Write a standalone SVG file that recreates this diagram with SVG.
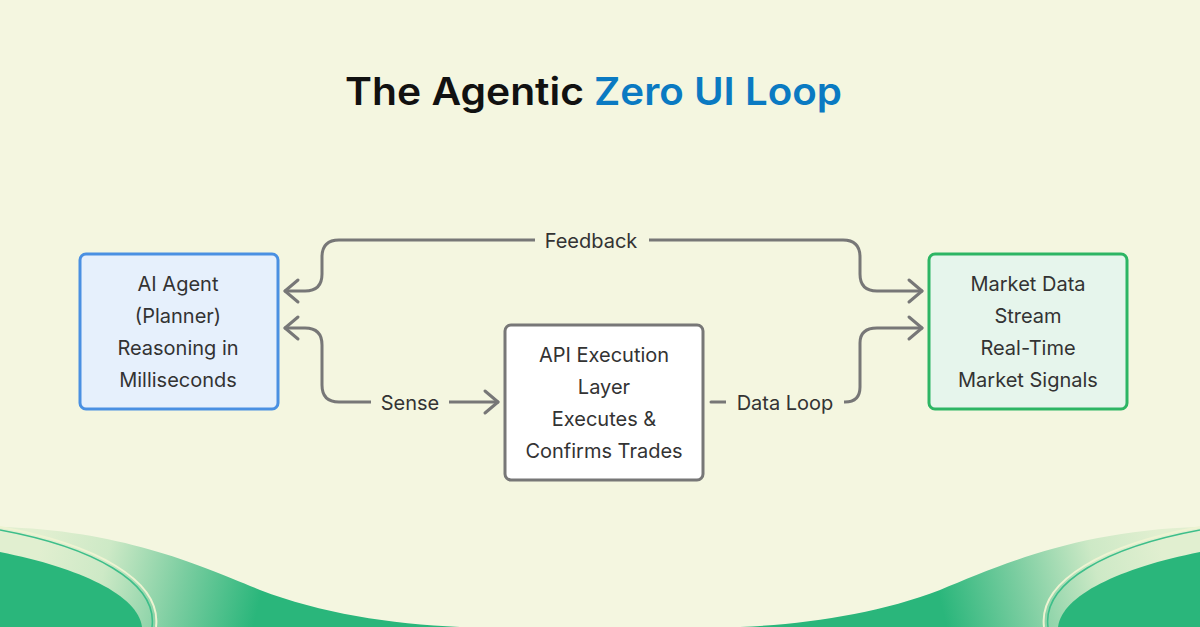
<svg xmlns="http://www.w3.org/2000/svg" width="1200" height="627" viewBox="0 0 1200 627">
  <style>
    .title { font-family: Inter, "Liberation Sans", sans-serif; font-size: 38px; font-weight: 600; }
    .ntext { font-family: Inter, "Liberation Sans", sans-serif; font-size: 20px; fill: #333333; text-anchor: middle; }
    .conn { fill: none; stroke: #777777; stroke-width: 3; stroke-linecap: round; stroke-linejoin: round; }
    .lbl { font-family: Inter, "Liberation Sans", sans-serif; font-size: 20px; fill: #333333; text-anchor: middle; }
  </style>
  <defs>
    <marker id="arr" viewBox="-16 -14 19 28" refX="0" refY="0" markerWidth="19" markerHeight="28" markerUnits="userSpaceOnUse" orient="auto-start-reverse">
      <path d="M-13,-11 L0,0 L-13,11" fill="none" stroke="#777777" stroke-width="3" stroke-linecap="round" stroke-linejoin="round"/>
    </marker>
    <linearGradient id="waveGrad" gradientUnits="userSpaceOnUse" x1="40" y1="545" x2="260" y2="600">
      <stop offset="0" stop-color="#E1EFD0"/>
      <stop offset="0.3" stop-color="#CDE9C6"/>
      <stop offset="0.65" stop-color="#7ACDA0"/>
      <stop offset="1" stop-color="#2AB67B"/>
    </linearGradient>
    <g id="waveCorner">
      <path d="M0,527 C120,530 200,565 260,590 C320,613 390,624 460,627 L0,627 Z" fill="url(#waveGrad)"/>
      <path d="M0,552 C80,568 138,595 142,627 L0,627 Z" fill="#2AB67B"/>
      <path d="M0,530 C92,547 158,582 152,627" fill="none" stroke="#3DBE8A" stroke-width="1.5"/>
      <path d="M0,527 C94,544 162,580 156,627" fill="none" stroke="#EEF3D2" stroke-width="2"/>
    </g>
  </defs>
  <rect x="0" y="0" width="1200" height="627" fill="#F4F6E0"/>

  <g id="background-waves">
    <use href="#waveCorner"/>
    <use href="#waveCorner" transform="translate(1200,0) scale(-1,1)"/>
  </g>

  <g id="title">
    <text class="title" x="345" y="105" fill="#111111" textLength="239" lengthAdjust="spacingAndGlyphs">The Agentic</text>
    <text class="title" x="594" y="105" fill="#0A7AC2" textLength="248" lengthAdjust="spacingAndGlyphs">Zero UI Loop</text>
  </g>

  <g id="connectors">
    <path class="conn" d="M285,291 L305,291 Q322,291 322,274 L322,257 Q322,240 339,240 L843,240 Q860,240 860,257 L860,274 Q860,291 877,291 L922,291" marker-start="url(#arr)" marker-end="url(#arr)"/>
    <path class="conn" d="M285,328 L305,328 Q322,328 322,345 L322,385 Q322,402 339,402 L498,402" marker-start="url(#arr)" marker-end="url(#arr)"/>
    <path class="conn" d="M711,402 L845,402 Q860,402 860,387 L860,343 Q860,328 877,328 L922,328" marker-end="url(#arr)"/>
    <rect x="535" y="228" width="114" height="26" fill="#F4F6E0"/>
    <text class="lbl" x="591" y="248">Feedback</text>
    <rect x="371" y="390" width="78" height="26" fill="#F4F6E0"/>
    <text class="lbl" x="410" y="410">Sense</text>
    <rect x="726" y="390" width="118" height="26" fill="#F4F6E0"/>
    <text class="lbl" x="785" y="410">Data Loop</text>
  </g>

  <g id="node-ai-agent">
    <rect x="80" y="254" width="198" height="155" rx="6" fill="#E6F0FC" stroke="#4A90E2" stroke-width="3"/>
    <text class="ntext" x="178" y="291">AI Agent</text>
    <text class="ntext" x="178" y="323">(Planner)</text>
    <text class="ntext" x="178" y="355">Reasoning in</text>
    <text class="ntext" x="178" y="387">Milliseconds</text>
  </g>

  <g id="node-api">
    <rect x="505" y="325" width="198" height="155" rx="6" fill="#FFFFFF" stroke="#777777" stroke-width="3"/>
    <text class="ntext" x="604" y="362">API Execution</text>
    <text class="ntext" x="604" y="394">Layer</text>
    <text class="ntext" x="604" y="426">Executes &amp;</text>
    <text class="ntext" x="604" y="458">Confirms Trades</text>
  </g>

  <g id="node-market">
    <rect x="929" y="254" width="198" height="155" rx="6" fill="#E6F5EC" stroke="#2DB564" stroke-width="3"/>
    <text class="ntext" x="1028" y="291">Market Data</text>
    <text class="ntext" x="1028" y="323">Stream</text>
    <text class="ntext" x="1028" y="355">Real-Time</text>
    <text class="ntext" x="1028" y="387">Market Signals</text>
  </g>
</svg>
